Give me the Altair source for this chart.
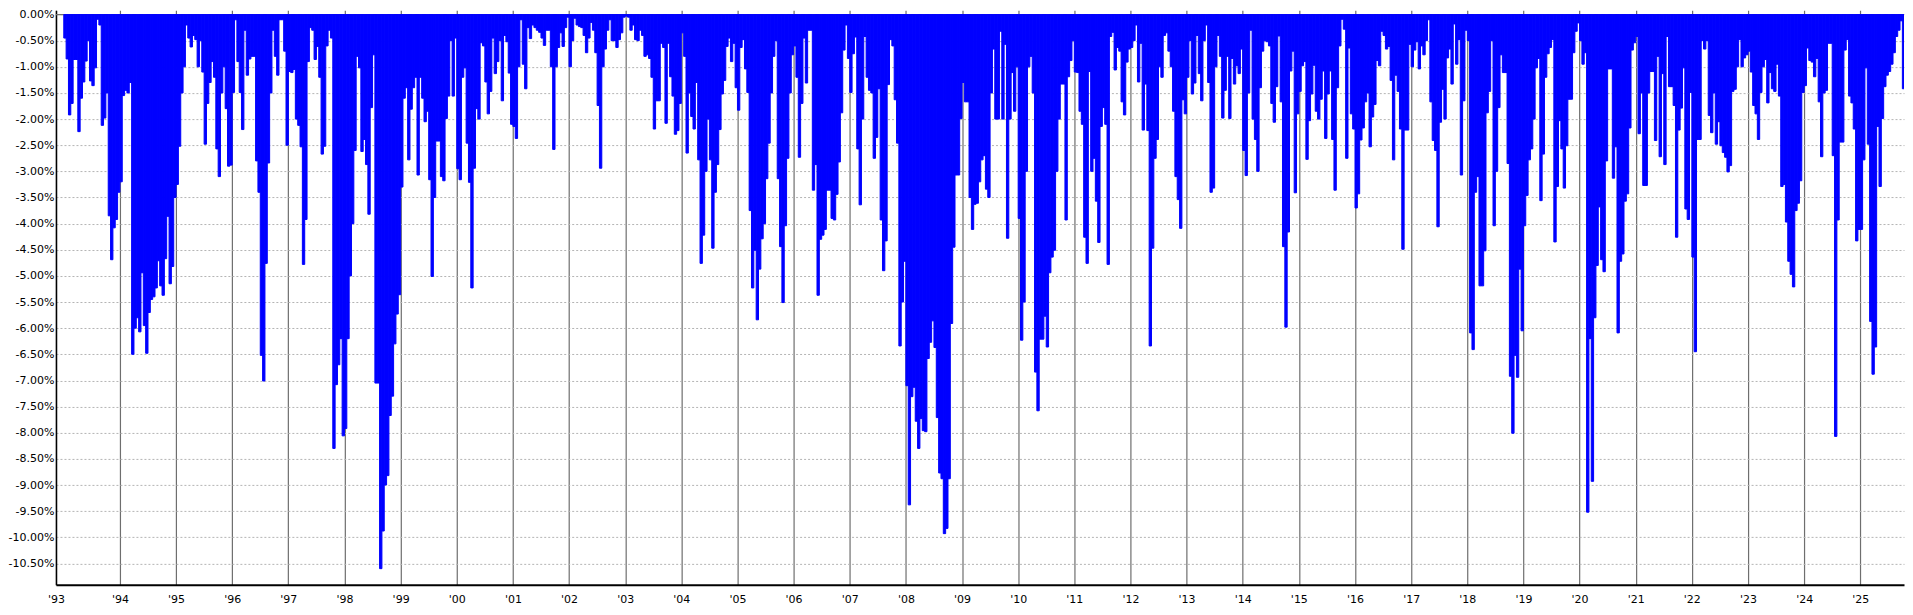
import altair as alt
import pandas as pd

# Semi-monthly drawdown readings (percent), 24 slots per year
y1993 = [-0.45, -0.85, -1.92, -1.7, -0.86, -0.86, -2.24, -1.6, -1.29, -0.89, -0.5, -1.27, -1.36, -1.02, -0.09, -0.2, -2.12, -1.98, -1.5, -3.85, -4.69, -4.08, -3.92, -3.4]
y1994 = [-3.2, -1.55, -1.45, -1.5, -1.3, -6.5, -6.0, -5.8, -6.07, -4.94, -5.95, -6.48, -5.7, -5.45, -5.4, -5.23, -4.71, -5.19, -5.37, -4.67, -3.86, -5.15, -4.82, -3.5]
y1995 = [-3.25, -2.52, -1.5, -1.0, -0.2, -0.45, -0.62, -0.4, -0.48, -1.0, -0.5, -1.1, -2.48, -1.7, -1.3, -0.9, -1.2, -2.57, -3.1, -1.5, -1.0, -1.8, -2.9, -2.88]
y1996 = [-1.49, -0.1, -0.9, -1.49, -2.2, -0.3, -1.16, -0.85, -0.8, -0.8, -2.8, -3.4, -6.52, -7.01, -4.76, -2.84, -1.5, -0.3, -0.8, -1.16, -0.1, -0.1, -0.7, -2.5]
y1997 = [-1.09, -1.11, -1.05, -2.0, -2.12, -2.53, -4.78, -3.92, -0.9, -0.25, -0.3, -0.86, -0.61, -1.2, -2.67, -2.52, -0.6, -0.3, -0.45, -8.3, -7.08, -6.7, -6.2, -8.06]
y1998 = [-7.92, -6.2, -5.0, -4.0, -2.6, -0.8, -1.02, -2.62, -2.39, -2.87, -3.82, -1.78, -0.77, -7.05, -7.05, -10.6, -9.88, -9.0, -8.82, -7.67, -7.3, -6.3, -5.73, -5.36]
y1999 = [-3.3, -1.6, -1.4, -2.78, -1.81, -1.4, -1.2, -3.07, -1.2, -1.6, -2.05, -1.85, -3.16, -5.01, -3.5, -2.42, -2.42, -3.1, -3.18, -1.99, -1.56, -0.5, -1.56, -0.45]
y2000 = [-2.95, -3.16, -1.2, -1.02, -2.46, -3.21, -5.23, -2.94, -1.8, -2.0, -0.54, -0.6, -1.29, -1.9, -1.47, -0.45, -1.13, -0.9, -0.5, -1.65, -0.4, -0.52, -1.12, -2.1]
y2001 = [-2.14, -2.37, -1.0, -0.1, -0.95, -1.42, -0.25, -0.46, -0.2, -0.25, -0.3, -0.34, -0.45, -0.59, -0.3, -0.3, -1.0, -2.58, -1.0, -0.63, -0.35, -0.61, -0.25, -0.05]
y2002 = [-1.0, -0.5, -0.07, -0.2, -0.23, -0.25, -0.4, -0.73, -0.45, -0.15, -0.3, -0.73, -1.74, -2.94, -1.0, -0.66, -0.3, -0.1, -0.5, -0.5, -0.63, -0.48, -0.35, -0.05]
y2003 = [-0.03, -0.05, -0.3, -0.2, -0.48, -0.5, -0.3, -0.4, -0.8, -0.77, -0.84, -1.2, -2.19, -1.65, -1.65, -0.55, -0.63, -2.08, -0.55, -1.19, -1.56, -2.29, -2.22, -1.7]
y2004 = [-0.35, -0.8, -2.65, -1.5, -1.95, -2.19, -1.3, -2.78, -4.76, -4.22, -3.0, -2.0, -2.78, -4.47, -3.4, -2.87, -2.2, -1.52, -1.26, -0.61, -0.45, -0.9, -0.55, -1.4]
y2005 = [-1.83, -0.63, -0.48, -1.04, -1.49, -3.75, -5.23, -4.51, -5.84, -4.87, -4.29, -4.0, -3.14, -2.46, -1.5, -0.8, -0.5, -3.14, -4.44, -5.51, -4.04, -2.75, -1.5, -0.77]
y2006 = [-0.6, -1.2, -2.73, -1.7, -0.45, -1.31, -0.3, -0.3, -3.36, -2.87, -5.37, -4.3, -4.22, -4.11, -3.36, -3.36, -3.9, -3.93, -3.44, -2.82, -1.88, -0.68, -0.2, -0.84]
y2007 = [-1.49, -0.75, -0.43, -2.57, -3.64, -2.0, -0.42, -1.2, -1.45, -1.5, -2.75, -2.35, -1.42, -3.93, -4.9, -4.33, -1.34, -0.48, -0.6, -1.63, -2.46, -6.34, -5.5, -4.72]
y2008 = [-7.1, -9.38, -7.31, -7.13, -7.78, -8.3, -7.73, -7.96, -7.98, -6.58, -6.27, -5.86, -6.37, -7.71, -8.77, -8.88, -9.93, -9.83, -8.88, -5.91, -4.45, -3.07, -3.07, -1.99]
y2009 = [-1.3, -1.67, -1.67, -3.5, -4.11, -3.63, -3.61, -3.2, -2.78, -2.7, -3.34, -3.5, -1.5, -0.66, -2.0, -2.0, -0.32, -2.0, -0.57, -4.28, -2.0, -1.11, -1.85, -1.0]
y2010 = [-3.9, -6.23, -5.5, -3.0, -1.0, -0.8, -1.5, -6.84, -7.58, -6.21, -6.21, -5.77, -6.36, -4.94, -4.64, -4.51, -3.0, -2.0, -1.33, -1.33, -3.93, -1.19, -0.88, -0.5]
y2011 = [-1.1, -1.11, -1.85, -2.1, -4.26, -4.76, -1.09, -3.0, -2.75, -3.57, -4.36, -2.14, -1.78, -2.1, -4.78, -0.42, -0.34, -1.06, -0.63, -0.7, -1.67, -1.92, -0.91, -0.66]
y2012 = [-0.63, -0.5, -0.2, -1.29, -0.55, -2.21, -1.33, -2.22, -6.34, -4.47, -2.75, -2.39, -1.0, -1.2, -0.4, -0.35, -0.7, -1.0, -1.85, -3.1, -3.54, -4.09, -1.63, -1.9]
y2013 = [-1.2, -0.5, -1.52, -1.31, -0.4, -1.13, -1.65, -0.5, -0.2, -1.3, -3.4, -3.32, -1.0, -0.4, -0.8, -1.98, -1.45, -0.8, -1.99, -0.84, -1.33, -0.98, -1.13, -0.66]
y2014 = [-2.6, -3.08, -1.5, -0.3, -2.0, -2.39, -3.0, -1.4, -0.7, -0.5, -0.52, -0.6, -1.7, -2.06, -1.38, -0.41, -1.67, -4.44, -5.98, -4.16, -1.08, -0.7, -3.41, -1.9]
y2015 = [-1.47, -0.98, -0.9, -2.77, -2.03, -1.52, -0.97, -1.85, -2.0, -1.62, -1.08, -2.37, -1.52, -1.08, -2.39, -3.36, -1.4, -0.6, -0.09, -0.28, -2.75, -0.64, -1.9, -2.19]
y2016 = [-3.7, -3.43, -2.4, -2.17, -1.67, -1.5, -2.53, -1.96, -1.72, -0.88, -0.98, -0.32, -0.4, -0.66, -0.61, -1.26, -2.78, -1.16, -1.47, -2.19, -4.49, -2.21, -2.21, -0.57]
y2017 = [-1.0, -0.68, -0.52, -1.04, -0.6, -0.77, -0.5, -0.1, -1.67, -2.41, -2.6, -4.06, -2.06, -1.43, -2.0, -0.83, -0.66, -1.33, -0.18, -0.95, -0.48, -3.07, -1.65, -0.3]
y2018 = [-0.5, -6.09, -6.41, -3.4, -3.1, -5.19, -5.19, -4.52, -1.88, -1.47, -0.5, -4.04, -3.0, -1.78, -0.77, -1.11, -1.11, -2.85, -6.92, -8.01, -6.52, -6.94, -4.87, -6.05]
y2019 = [-4.04, -3.46, -2.78, -2.57, -2.0, -1.02, -0.84, -3.56, -2.67, -1.2, -0.75, -0.63, -0.48, -4.35, -3.29, -2.03, -2.57, -3.32, -2.51, -1.62, -1.62, -0.73, -0.32, -0.16]
y2020 = [-0.5, -0.95, -0.73, -9.52, -6.2, -8.93, -5.8, -4.8, -3.68, -4.69, -4.92, -2.8, -1.04, -1.04, -3.13, -2.53, -6.09, -4.72, -4.58, -3.57, -3.43, -2.17, -0.68, -0.54]
y2021 = [-0.42, -2.28, -1.5, -3.27, -3.27, -1.5, -1.09, -1.09, -2.41, -0.8, -2.72, -1.13, -2.87, -0.42, -1.38, -1.38, -1.74, -4.26, -2.21, -1.79, -1.02, -3.72, -3.92, -1.49]
y2022 = [-4.64, -6.45, -2.39, -2.39, -0.5, -0.66, -0.5, -1.93, -2.26, -1.5, -2.48, -2.05, -2.51, -2.64, -2.73, -3.01, -2.89, -1.47, -1.43, -1.0, -0.48, -1.0, -0.83, -0.77]
y2023 = [-0.7, -1.1, -1.74, -1.9, -2.39, -1.49, -1.0, -0.86, -1.69, -1.11, -1.42, -1.47, -0.95, -1.56, -3.29, -3.25, -3.97, -4.72, -4.97, -5.21, -3.75, -3.61, -3.18, -1.49]
y2024 = [-1.36, -0.64, -0.88, -0.91, -1.19, -0.84, -1.67, -2.72, -1.5, -1.45, -0.55, -0.55, -2.7, -8.07, -3.93, -2.44, -2.44, -0.68, -0.48, -1.56, -1.69, -2.19, -4.33, -4.11]
y2025 = [-4.11, -2.78, -1.02, -2.48, -5.87, -6.88, -6.36, -2.14, -3.29, -1.99, -1.38, -1.16, -1.09, -0.95, -0.73, -0.42, -0.3, -0.12, -1.42, -0.3]

years = list(range(1993, 2026))
series = [y1993, y1994, y1995, y1996, y1997, y1998, y1999, y2000, y2001, y2002,
          y2003, y2004, y2005, y2006, y2007, y2008, y2009, y2010, y2011, y2012,
          y2013, y2014, y2015, y2016, y2017, y2018, y2019, y2020, y2021, y2022,
          y2023, y2024, y2025]

y_ticks = [0.0, -0.5, -1.0, -1.5, -2.0, -2.5, -3.0, -3.5, -4.0, -4.5, -5.0, -5.5,
           -6.0, -6.5, -7.0, -7.5, -8.0, -8.5, -9.0, -9.5, -10.0, -10.5]
x_start = 1992.861
x_end = 2025.779
x_ticks = [x_start] + list(range(1994, 2026))

SLOTS = 24
rows = []
for yr, vals in zip(years, series):
    for i, v in enumerate(vals):
        rows.append({"t0": yr + i / SLOTS, "t1": yr + (i + 1) / SLOTS, "dd": v, "base": 0.0})
df = pd.DataFrame(rows)

x_scale = alt.Scale(domain=[x_start, x_end], nice=False, zero=False)
y_scale = alt.Scale(domain=[-10.91, 0.084], nice=False, zero=False)

x_axis = alt.Axis(
    values=x_ticks,
    labelExpr="datum.value < 1993 ? \"'93\" : \"'\" + substring(toString(datum.value), 2, 4)",
    grid=True, gridColor="#6e6e6e", gridWidth=1.2,
    ticks=False, domainColor="#000000", domainWidth=2,
    labelFont="DejaVu Sans", labelFontSize=11, labelColor="#000000",
    labelPadding=9, labelFlush=False, labelOverlap=False, title=None,
)
y_axis = alt.Axis(
    values=y_ticks,
    labelExpr="(datum.value < 0 ? '-' : '') + format(abs(datum.value), '.2f') + '%'",
    grid=True, gridColor="#b4b4b4", gridDash=[2, 2], gridWidth=1,
    ticks=False, domainColor="#000000", domainWidth=1.5,
    labelFont="DejaVu Sans", labelFontSize=11, labelColor="#000000",
    labelPadding=2, labelOverlap=False, title=None,
)

zero_df = pd.DataFrame({"v": [0.0]})
zero_line = alt.Chart(zero_df).mark_rule(color="#6e6e6e", strokeWidth=1.2).encode(
    y=alt.Y("v:Q", scale=y_scale, axis=y_axis)
)

bars = alt.Chart(df).mark_rect(
    color="#0000ff", stroke="#0000ff", strokeWidth=1.0, clip=True
).encode(
    x=alt.X("t0:Q", scale=x_scale, axis=x_axis),
    x2="t1:Q",
    y=alt.Y("dd:Q", scale=y_scale, axis=y_axis),
    y2="base:Q",
)

chart = alt.layer(zero_line, bars).properties(
    width=1849, height=575,
    padding={"left": 0, "top": 0, "right": 0, "bottom": 0},
    background="#ffffff",
).configure_view(stroke=None)

chart.save("out.html", embed_options={"renderer": "svg", "actions": False})
